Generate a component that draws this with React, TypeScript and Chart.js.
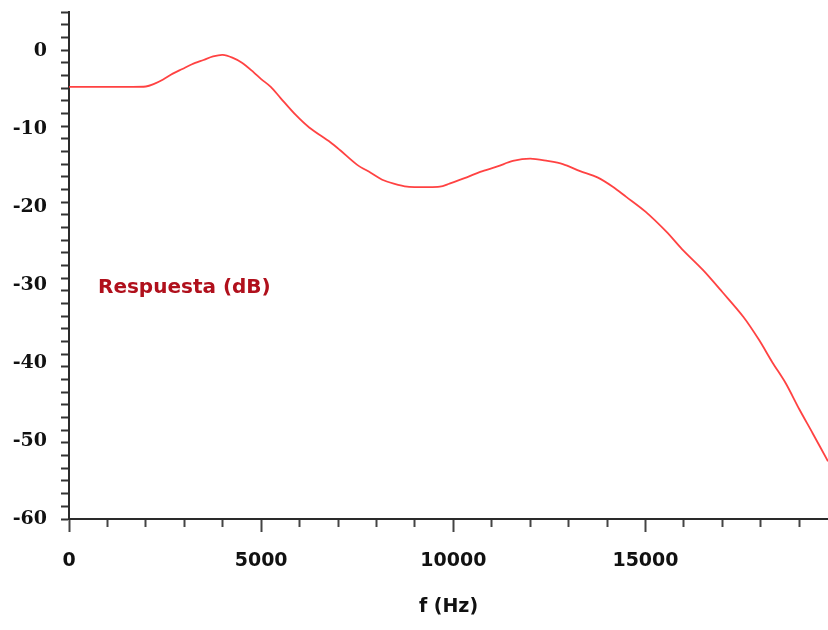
import React, { useEffect, useRef } from 'react';
import { Chart, registerables } from 'chart.js';

Chart.register(...registerables);

// ---- Data ----
const freqHz = [
  0, 500, 1000, 1500, 2000, 2200, 2450, 2700, 2950, 3200, 3500, 3750, 4000, 4250, 4500,
  4800, 5000, 5250, 5500, 5900, 6250, 6800, 7050, 7500, 7850, 8150, 8450, 8800, 9200,
  9650, 9900, 10350, 10700, 11150, 11550, 12000, 12450, 12850, 13300, 13750, 14150,
  14500, 15000, 15550, 15950, 16500, 17000, 17550, 17950, 18300, 18650, 19000, 19350, 19750,
];
const responseDb = [
  -4.6, -4.6, -4.6, -4.6, -4.55, -4.25, -3.65, -2.9, -2.3, -1.7, -1.15, -0.7, -0.5, -0.85, -1.5,
  -2.7, -3.6, -4.6, -6.0, -8.2, -9.8, -11.7, -12.7, -14.6, -15.6, -16.5, -17.0, -17.4, -17.45,
  -17.4, -17.0, -16.2, -15.5, -14.8, -14.1, -13.8, -14.1, -14.5, -15.4, -16.2, -17.4,
  -18.7, -20.6, -23.2, -25.4, -28.1, -30.9, -34.1, -37.0, -39.9, -42.6, -45.9, -49.0, -52.6,
];

const seriesLabel = 'Respuesta (dB)';
const xAxisTitle = 'f (Hz)';
const xLabelValues = [0, 5000, 10000, 15000];
const yLabelValues = [0, -10, -20, -30, -40, -50, -60];

const X_MIN = 0;
const X_MAX = 19750;
const X_MINOR_STEP = 1000;
const X_LAST_TICK = 19000;
const Y_MIN = -60;
const Y_MAX = 5;
const Y_MINOR_COUNT = 40;

const xTickValues: number[] = [];
for (let v = X_MIN; v <= X_LAST_TICK; v += X_MINOR_STEP) xTickValues.push(v);

const yMinorValues: number[] = [];
for (let k = 0; k <= Y_MINOR_COUNT; k++) yMinorValues.push(Y_MIN + (k * (Y_MAX - Y_MIN)) / Y_MINOR_COUNT);

const yTickValues = Array.from(new Set([...yMinorValues, ...yLabelValues])).sort((a, b) => a - b);

const AXIS_COLOR = '#2a2a2a';
const LINE_COLOR = 'rgba(255, 45, 45, 0.9)';
const LEGEND_COLOR = '#b0101c';

const legendPlacer = {
  id: 'legendPlacer',
  afterLayout(chart: any) {
    const lg = chart.legend;
    if (!lg) return;
    const ca = chart.chartArea;
    const left = ca.left + 19;
    const top = ca.top + 266;
    const w = lg.width;
    lg.left = left;
    lg.top = top;
    lg.right = left + w + 20;
    lg.bottom = top + 40;
  },
};

export default function App() {
  const canvasRef = useRef<HTMLCanvasElement | null>(null);

  useEffect(() => {
    const canvas = canvasRef.current;
    if (!canvas) return;
    Chart.defaults.font.family = "'DejaVu Sans', sans-serif";

    const chart = new Chart(canvas, {
      type: 'line',
      data: {
        datasets: [
          {
            label: seriesLabel,
            data: freqHz.map((f, i) => ({ x: f, y: responseDb[i] })),
            borderColor: LINE_COLOR,
            backgroundColor: LINE_COLOR,
            borderWidth: 1.8,
            pointRadius: 0,
            tension: 0.3,
            fill: false,
          },
        ],
      },
      options: {
        animation: false,
        responsive: false,
        devicePixelRatio: 1,
        layout: { padding: { top: 12, left: 0, right: 0, bottom: 0 } },
        plugins: {
          tooltip: { enabled: false },
          legend: {
            display: true,
            position: 'chartArea' as any,
            align: 'start',
            labels: {
              boxWidth: 0,
              boxHeight: 0,
              padding: 0,
              textAlign: 'left',
              color: LEGEND_COLOR,
              font: { family: "'DejaVu Sans', sans-serif", size: 20, weight: 'bold' },
              generateLabels: () => [
                {
                  text: seriesLabel,
                  fillStyle: 'rgba(0,0,0,0)',
                  strokeStyle: 'rgba(0,0,0,0)',
                  lineWidth: 0,
                  fontColor: LEGEND_COLOR,
                  hidden: false,
                  datasetIndex: 0,
                } as any,
              ],
            },
          },
        },
        scales: {
          x: {
            type: 'linear',
            min: X_MIN,
            max: X_MAX,
            afterBuildTicks: (scale: any) => {
              scale.ticks = xTickValues.map((v) => ({ value: v }));
            },
            afterFit: (scale: any) => {
              scale.height = 111;
              scale.paddingRight = 0;
            },
            ticks: {
              autoSkip: false,
              maxRotation: 0,
              minRotation: 0,
              padding: 18,
              color: '#111',
              font: { family: "'DejaVu Sans', sans-serif", size: 19, weight: 'bold' },
              callback: (value: any) => (xLabelValues.includes(Number(value)) ? String(value) : ''),
            },
            grid: {
              drawOnChartArea: false,
              drawTicks: true,
              tickLength: 13,
              tickWidth: 2,
              tickColor: '#444',
              tickBorderDash: (ctx: any) =>
                ctx.tick && xLabelValues.includes(ctx.tick.value) ? [] : [7, 100],
            },
            border: { display: true, color: AXIS_COLOR, width: 2 },
            title: {
              display: true,
              text: xAxisTitle,
              color: '#111',
              font: { family: "'DejaVu Sans', sans-serif", size: 19, weight: 'bold' },
              padding: { top: 0, bottom: 12 },
            },
          },
          y: {
            type: 'linear',
            min: Y_MIN,
            max: Y_MAX,
            afterBuildTicks: (scale: any) => {
              scale.ticks = yTickValues.map((v) => ({ value: v }));
            },
            afterFit: (scale: any) => {
              scale.width = 69;
              scale.paddingTop = 0;
              scale.paddingBottom = 0;
            },
            ticks: {
              autoSkip: false,
              padding: 14,
              color: '#111',
              font: { family: "'DejaVu Serif', serif", size: 19, weight: 'bold' },
              callback: (value: any) => (yLabelValues.includes(Number(value)) ? String(value) : ''),
            },
            grid: {
              drawOnChartArea: false,
              drawTicks: true,
              tickLength: 8,
              tickWidth: 2,
              tickColor: (ctx: any) =>
                ctx.tick && yLabelValues.includes(ctx.tick.value) && !yMinorValues.includes(ctx.tick.value)
                  ? 'rgba(0,0,0,0)'
                  : '#333',
            },
            border: { display: true, color: AXIS_COLOR, width: 2 },
          },
        },
      },
      plugins: [legendPlacer],
    });

    return () => chart.destroy();
  }, []);

  return (
    <div style={{ position: 'absolute', left: 0, top: 0, width: 828, height: 630, background: '#fff' }}>
      <canvas ref={canvasRef} width={828} height={630} style={{ width: 828, height: 630, display: 'block' }} />
    </div>
  );
}
